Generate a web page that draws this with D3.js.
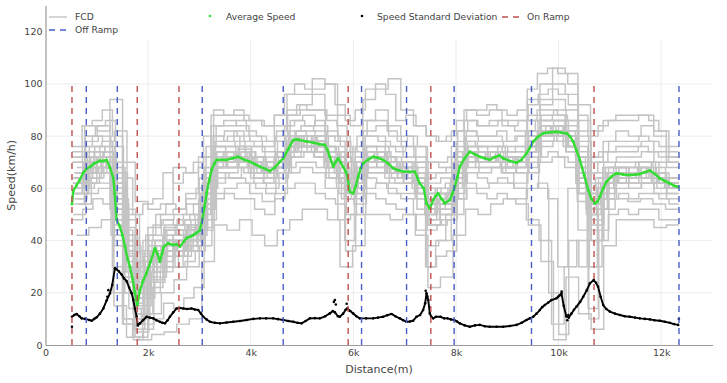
<!DOCTYPE html>
<html><head><meta charset="utf-8">
<script src="https://cdn.jsdelivr.net/npm/d3@7"></script>
<style>
body{margin:0;background:#fff}
svg{display:block}
text{font-family:"DejaVu Sans",Verdana,sans-serif}
</style>
</head><body>
<svg id="chart" width="727" height="383"></svg>
<script>
// ---------------- DATA ----------------
const xTicks = [0, 2000, 4000, 6000, 8000, 10000, 12000];
const xTickLabels = ["0", "2k", "4k", "6k", "8k", "10k", "12k"];
const yTicks = [0, 20, 40, 60, 80, 100, 120];

const onRamp = [516, 1788, 2601, 5899, 7510, 10691];
const offRamp = [795, 1399, 3055, 4633, 6160, 7037, 7964, 9472, 12347];
const rampSpeedRange = [0, 100];

// FCD trajectories (step speeds, km/h), each spanning fcdStart -> fcdEnd (m)
const fcdStart = [516,540,575,520,610,560,530,590,640,516,600,550,620,525,570,650,535,600,
                  520,560,530,600,516,580,545,610,530,570,516,590,555,620,525,565,540,600];
const fcdEnd = [12348,12330,12348,12300,12348,12348,12320,12348,12340,12348,12348,12290,12348,12348,12330,12348,12348,12310,
                12340,12348,12300,12348,12330,12348,12348,12320,12348,12280,12348,12348,12340,12348,12310,12348,12348,12330];
const fcdSpeeds = [
 [72,80,84,70,45,30,45,50,52,58,68,84,86,84,80,78,84,90,92,96,88,80,74,86,90,84,80,76,70,68,76,86,84,86,84,82,88,94,100,96,86,72,78,82,80,84,80,72],
 [50,58,60,42,10,5,12,20,25,30,38,58,60,62,58,55,58,66,68,66,60,48,50,60,62,58,56,50,38,40,50,62,60,62,62,60,66,70,72,68,55,40,52,56,55,56,54,52],
 [64,70,74,62,28,18,30,40,34,45,58,72,68,75,70,64,72,80,76,80,74,70,58,74,68,70,64,64,58,52,66,70,74,70,72,68,80,84,80,82,70,58,66,62,68,66,66,60],
 [60,66,72,52,8,3,20,30,42,36,50,68,74,70,66,70,68,74,80,74,68,60,66,70,74,66,70,60,50,58,60,74,70,74,68,72,74,80,84,76,62,50,60,68,62,70,62,64],
 [68,76,78,82,50,35,40,44,48,50,62,78,80,76,76,72,78,86,88,84,80,76,70,80,78,76,72,70,62,64,70,80,78,78,76,76,82,88,90,86,78,66,70,72,72,74,70,68],
 [56,62,66,48,20,10,28,34,30,40,45,64,66,68,64,62,64,72,74,72,66,58,56,66,66,62,62,58,48,50,58,68,68,68,66,66,70,76,78,74,62,48,58,62,60,62,60,58],
 [62,70,72,64,35,22,38,36,40,44,56,70,72,72,70,66,70,76,80,78,72,68,64,72,72,70,68,64,56,56,64,72,72,70,66,60,48,40,8,30,40,30,56,66,64,66,64,62],
 [58,68,70,60,30,15,25,45,46,40,52,72,70,76,68,64,66,78,78,76,70,62,60,70,70,66,64,60,46,54,62,74,72,72,70,72,76,80,82,80,70,54,62,64,66,64,64,60],
 [66,72,74,56,38,25,35,30,36,48,60,74,74,70,72,68,72,80,78,80,74,70,64,74,74,70,68,66,60,58,66,76,74,74,72,72,80,84,86,82,74,60,66,68,66,68,66,64],
 [74,84,82,94,70,55,52,54,68,66,72,88,88,88,86,84,88,96,96,102,100,88,84,94,98,102,90,84,80,78,82,90,88,90,86,86,94,100,106,104,92,82,86,88,88,88,82,74],
 [42,45,48,15,3,2,4,5,8,10,32,46,44,48,42,38,44,48,52,52,48,30,38,50,50,48,50,42,22,26,42,52,50,54,56,54,46,32,2,26,12,6,38,48,48,48,45,46],
 [62,66,68,60,26,20,32,38,36,42,54,70,72,70,68,66,70,76,78,78,70,64,62,72,72,68,66,62,54,56,62,72,72,72,72,72,76,82,84,80,66,54,62,66,66,68,64,62],
 [60,68,72,66,40,28,34,36,40,38,52,68,70,72,70,68,68,76,78,74,68,66,60,70,70,66,62,62,52,52,62,72,70,72,70,70,78,82,80,78,60,40,60,64,62,66,62,60],
 [64,72,70,58,24,12,30,32,36,44,56,70,70,74,70,66,72,78,78,78,72,64,62,70,72,68,66,62,56,54,64,74,72,72,72,70,76,80,82,78,66,58,64,66,66,66,66,62],
 [66,74,76,68,42,26,36,42,44,46,58,76,76,74,72,70,74,82,84,82,76,72,66,76,76,72,70,68,60,60,68,76,76,76,74,74,80,86,88,84,72,62,68,70,70,70,68,64],
 [54,64,68,54,14,8,26,36,34,38,48,66,64,68,62,60,66,72,74,74,64,56,54,66,66,64,62,56,46,48,56,70,66,68,68,66,72,78,80,76,58,46,56,60,60,62,58,56],
 [70,78,80,76,48,32,42,48,50,54,64,80,82,80,78,74,80,88,90,90,82,78,70,82,84,80,76,72,66,66,72,82,80,80,78,80,86,92,94,90,82,70,74,76,76,78,74,70],
 [58,64,70,62,32,20,28,40,38,36,54,68,68,70,66,64,68,74,76,76,70,62,60,68,70,66,64,62,52,50,62,70,70,70,68,68,74,80,84,80,64,52,62,64,64,64,62,60],
 [70,76,80,78,62,44,30,40,46,48, 46,50,54,72,80,78,82,78,76,76, 78,84,86,84,86,80,78,70,76,80, 80,76,74,76,70,64,66,68,78,82, 80,80,82,78,80,86,90,90,88,86, 76,66,70,74,74,74,76,74,72,70],
 [54,60,62,62,38,20,6,18,24,30, 30,32,36,52,62,64,64,62,60,58, 62,68,70,70,68,64,62,50,58,64, 62,60,58,58,52,44,46,48,62,66, 64,62,64,62,62,68,72,74,72,70, 58,44,52,56,58,56,58,58,56,54],
 [60,70,68,74,44,30,12,34,30,42, 36,44,40,66,70,74,70,72,66,68, 72,74,80,76,78,70,72,56,70,70, 74,66,68,64,64,50,58,54,72,72, 74,70,74,68,72,78,80,84,80,80, 64,52,62,66,64,66,64,68,62,60],
 [64,66,72,68,56,36,20,26,38,36, 40,38,46,60,74,68,74,68,70,64, 68,78,76,80,74,74,68,62,64,74, 70,70,64,68,58,56,54,60,68,76, 70,74,70,72,70,76,82,80,84,76, 70,58,58,64,68,64,68,64,64,62],
 [58,64,70,66,30,10,3,12,22,28, 30,36,40,58,68,70,70,70,68,64, 70,74,76,76,74,70,66,40,60,70, 70,68,66,66,58,30,40,50,66,72, 70,70,72,70,70,74,78,78,80,76, 58,30,52,62,64,64,64,64,62,60],
 [72,80,84,86,66,52,36,42,50,54, 52,56,60,76,84,84,86,82,80,78, 82,88,92,90,90,86,84,74,80,86, 86,82,78,80,76,70,70,72,82,86, 84,84,86,84,86,92,96,98,96,92, 80,72,74,78,78,78,80,78,76,72],
 [62,68,72,72,48,34,14,28,36,40, 38,42,44,64,72,72,72,70,68,66, 70,76,78,78,78,72,70,62,68,72, 72,68,66,66,62,54,56,58,70,74, 72,72,72,70,72,78,82,82,82,78, 68,56,60,66,66,66,66,66,64,62],
 [56,62,66,68,50,28,10,24,28,44, 42,46,42,60,68,70,72,72,66,70, 70,74,80,74,76,68,70,58,66,72, 72,66,64,68,60,52,58,56,68,74, 72,70,70,68,72,76,82,82,80,80, 66,54,60,62,66,66,68,66,62,62],
 [48,52,56,54,20,8,2,6,10,16, 14,18,22,44,56,58,56,56,52,50, 56,60,62,62,58,56,54,36,50,58, 56,54,52,50,44,30,34,36,56,60, 58,56,58,56,56,60,62,56,30,60, 44,14,40,50,52,50,52,52,48,48],
 [66,72,76,74,60,40,24,36,40,46, 44,48,50,68,76,76,78,74,72,70, 74,80,82,82,80,76,74,66,72,76, 76,72,70,70,66,58,60,62,74,78, 76,76,76,74,76,82,86,86,86,82, 72,60,64,68,68,68,70,70,66,64],
 [76,84,86,90,80,64,50,54,56,66, 62,66,70,80,90,88,90,86,86,84, 88,96,100,98,98,100,92,86,90,98, 100,96,86,88,84,80,78,80,86,90, 90,92,90,88,90,98,104,106,104,100, 88,80,84,86,86,86,88,86,82,76],
 [60,66,68,70,52,36,18,30,36,38, 36,40,44,62,70,72,72,70,68,66, 70,76,78,76,76,72,70,60,68,72, 70,68,66,66,62,52,56,58,70,74, 72,72,72,70,70,78,80,82,82,78, 66,54,60,64,66,64,66,66,64,60],
 [64,70,74,72,46,26,12,32,34,36, 40,42,46,64,74,70,74,72,70,66, 72,78,80,80,78,74,72,64,66,72, 72,70,68,66,64,56,56,58,72,74, 74,72,74,72,72,78,82,82,82,80, 68,54,60,66,66,66,66,66,64,62],
 [62,68,70,70,54,36,20,28,34,40, 40,42,44,60,70,70,72,70,68,66, 70,76,78,78,76,72,70,60,66,70, 70,68,66,66,62,54,56,56,70,72, 72,72,72,70,70,74,60,20,4,40, 30,10,44,62,64,64,66,66,62,60],
 [58,64,66,68,44,30,16,26,32,36, 36,38,42,58,68,68,68,66,64,62, 66,72,74,74,72,68,66,56,62,68, 68,64,62,62,56,50,52,54,66,70, 68,68,68,66,68,74,78,78,78,74, 62,50,56,62,62,62,62,62,60,58],
 [66,74,74,76,58,42,24,32,40,44, 42,44,48,66,76,74,76,74,72,70, 74,80,82,80,80,76,74,66,70,76, 74,72,70,70,66,58,60,60,72,78, 76,74,76,74,74,80,86,86,86,82, 72,60,64,68,68,68,70,70,66,64],
 [60,66,70,70,40,24,8,22,30,36, 34,40,40,62,70,70,70,70,68,66, 68,74,76,76,76,70,68,56,66,70, 70,66,66,64,60,48,54,56,70,72, 70,70,72,68,70,76,80,80,80,76, 64,50,58,64,64,64,64,64,62,60],
 [62,70,72,72,52,34,18,30,36,40, 40,42,44,62,72,72,72,70,68,68, 70,76,78,78,78,72,70,60,68,72, 72,68,68,66,62,54,56,58,70,74, 72,72,72,70,72,78,82,82,82,78, 68,56,60,66,66,66,66,66,64,62]
];

// Average speed (km/h)
const avgDist = [516,540,600,660,737,800,870,950,1062,1130,
 1192,1257,1321,1350,1386,1451,1500,1549,1600,1646,
 1700,1743,1788,1841,1900,1971,2050,2133,2180,2230,
 2270,2308,2393,2490,2560,2620,2690,2750,2820,2880,
 2950,3010,3055,3100,3140,3190,3237,3290,3335,3430,
 3530,3640,3756,3870,3984,4080,4179,4280,4374,4470,
 4568,4633,4730,4828,4900,4958,5080,5217,5330,5445,
 5500,5542,5607,5650,5704,5750,5802,5850,5880,5932,
 5996,6050,6094,6140,6191,6290,6386,6480,6581,6680,
 6776,6870,6970,7080,7198,7250,7295,7373,7425,7490,
 7555,7600,7652,7720,7782,7880,7930,7977,8030,8075,
 8170,8270,8370,8464,8560,8659,8760,8854,8919,9050,
 9180,9280,9375,9440,9505,9600,9700,9830,9960,10060,
 10155,10220,10285,10350,10415,10500,10577,10640,10707,10760,
 10805,10870,10935,11030,11130,11260,11390,11490,11584,11680,
 11779,11880,11974,12070,12169,12250,12331];
const avgSpeed = [54,59,61,63,66,67.5,68.3,69.5,70.6,70.5,
 70.9,67.8,64,58,48,45.3,42,37.7,33,30,
 25,20,15.3,21,24.5,27.6,32,37.1,35,31.9,
 35,37.7,39,38.3,38.5,37.7,39.5,41,41.5,42.1,
 43,44,47.9,53,58.2,63,67,69.5,70.9,71,
 70.9,71.5,72.1,71,70.2,69.3,68.3,67.5,66.6,68,
 70.2,71.5,75,78.5,78.7,78.5,78,77.5,77,76.6,
 74.5,72.1,68.3,70,71.5,70,68.3,66.5,65.1,58.7,
 58.1,61,64.5,67.5,69.6,71,72.1,71.7,70.9,69.5,
 67.7,67,66.4,66.4,66.4,64,61.9,60,54.3,52.3,
 55.5,57,58.1,56,54.3,55.5,58,60.6,64.5,68.3,
 71.5,74,73,72.1,71.5,71,72,72.6,71.5,70.5,
 69.8,71,73.4,75.5,77.9,79.8,81.1,81.5,81.7,81.3,
 81.1,80,77.9,74.5,70.9,65,59.4,56,54.3,55,
 56.8,60,62.6,64.5,65.8,65.3,65.1,65.2,65.5,66.2,
 66.8,65.5,63.8,62.8,61.9,61,60.6];

// Speed standard deviation (km/h)
const sdDist = [516,560,607,660,705,770,850,900,950,997,
 1060,1127,1190,1257,1300,1354,1386,1430,1484,1530,
 1581,1630,1679,1711,1743,1776,1800,1841,1900,1971,
 2030,2100,2160,2230,2280,2328,2380,2425,2490,2555,
 2620,2685,2760,2847,2910,2977,3030,3075,3140,3205,
 3300,3400,3530,3659,3790,3919,4050,4179,4300,4438,
 4530,4633,4730,4828,4910,4990,5070,5153,5250,5347,
 5450,5542,5600,5640,5700,5737,5800,5850,5880,5940,
 5996,6060,6126,6250,6386,6480,6581,6660,6744,6820,
 6905,6970,7037,7100,7165,7230,7300,7360,7400,7425,
 7460,7490,7520,7555,7610,7700,7770,7834,7900,7964,
 8020,8075,8170,8270,8370,8464,8560,8659,8790,8919,
 9050,9180,9280,9375,9440,9505,9570,9635,9680,9732,
 9800,9862,9960,10020,10057,10100,10150,10200,10250,10300,
 10350,10420,10480,10550,10610,10685,10730,10770,10820,10870,
 10930,11000,11100,11195,11290,11390,11490,11584,11680,11779,
 11870,11974,12070,12169,12250,12331];
const sdValue = [10.8,11.5,11.9,11,10.2,10,9.6,9.3,10,10.6,
 12,14,17,19.8,23,29.4,29,28.2,27,25.5,
 24.5,22,19.8,17.2,14,10.8,7.5,8.3,9.5,10.8,
 10.5,10.2,9.5,8.9,8.5,8.3,9.5,10.8,12.5,14,
 14.2,14,13.8,14,13.6,13.4,12,10.8,9.8,8.9,
 8.5,8.3,8.6,8.9,9.2,9.6,10,10.2,10.2,10.2,
 9.9,9.6,9.2,8.9,8.5,8.3,9.2,10.2,10.3,10.2,
 11,12.1,13,12.5,11,10.8,12,13.5,14,13,
 12.1,11,10.2,10.2,10.2,10.5,10.8,11.4,11.9,11,
 10.2,9.5,8.9,9,9.3,10.8,11.5,13.4,16,19.8,
 17.2,12.1,10.8,10.2,10.8,10.8,10.2,10.2,9.8,9.6,
 9,8.3,7.5,7,7.5,7.7,7.2,7,7,7,
 7.3,7.7,8.5,9.6,10.2,10.8,12,13.4,14.5,15.3,
 16.3,17.2,17.9,19,19.8,15,11,10.5,12,13.5,
 14.7,16.5,18.5,21,23.6,24.9,23.8,22.3,18.5,15.3,
 13.8,12.8,12,11.5,11,10.8,10.5,10.2,10,9.8,
 9.5,9.3,8.9,8.5,8,7.7];
const sdOutlierDist = [516,1205,1225,5620,5640,5660,5870,7410,7440,9990,10060,10170,10190,12345];
const sdOutlierValue = [7,18.5,21,16.5,17.2,15.5,15.8,20.8,18.7,18.5,20.5,9.5,11.5,10];

// ---------------- CHART ----------------
const svg = d3.select("#chart");
const x = d3.scaleLinear().domain([0, 13000]).range([45.5, 712.5]);
const y = d3.scaleLinear().domain([0, 130]).range([345, 5.6]);

const colFCD = "#c4c4c4", colAvg = "#33dd33", colSD = "#000000",
      colOn = "#c0504d", colOff = "#4a5cc8", gridCol = "#ececec", axisCol = "#9a9a9a", textCol = "#444";

// grid
const grid = svg.append("g");
grid.selectAll("line.gx").data(xTicks.slice(1)).join("line")
  .attr("x1", d => x(d)).attr("x2", d => x(d))
  .attr("y1", y.range()[0]).attr("y2", y.range()[1])
  .attr("stroke", gridCol).attr("stroke-width", 1);
grid.selectAll("line.gy").data(yTicks.slice(1)).join("line")
  .attr("x1", x.range()[0]).attr("x2", x.range()[1])
  .attr("y1", d => y(d)).attr("y2", d => y(d))
  .attr("stroke", gridCol).attr("stroke-width", 1);

// FCD traces
const stepLine = d3.line().x(d => x(d[0])).y(d => y(d[1])).curve(d3.curveStepAfter);
const fcdG = svg.append("g");
fcdSpeeds.forEach((vals, i) => {
  const s = fcdStart[i], e = fcdEnd[i], n = vals.length, st = (e - s) / n;
  const pts = vals.map((v, k) => [s + k * st, v]);
  pts.push([e, vals[n - 1]]);
  fcdG.append("path").attr("d", stepLine(pts))
    .attr("fill", "none").attr("stroke", colFCD).attr("stroke-width", 1.45);
});

// average speed
const line = d3.line().x(d => x(d[0])).y(d => y(d[1]));
const avgPts = avgDist.map((d, i) => [d, avgSpeed[i]]);
svg.append("path").attr("d", line(avgPts)).attr("fill", "none")
  .attr("stroke", colAvg).attr("stroke-width", 2.4).attr("stroke-linejoin", "round");
svg.append("g").selectAll("circle").data(avgPts).join("circle")
  .attr("cx", d => x(d[0])).attr("cy", d => y(d[1])).attr("r", 1.5).attr("fill", colAvg);

// std deviation
const sdPts = sdDist.map((d, i) => [d, sdValue[i]]);
svg.append("path").attr("d", line(sdPts)).attr("fill", "none")
  .attr("stroke", colSD).attr("stroke-width", 1.9).attr("stroke-linejoin", "round");
const sdOut = sdOutlierDist.map((d, i) => [d, sdOutlierValue[i]]);
svg.append("g").selectAll("circle").data(sdPts.concat(sdOut)).join("circle")
  .attr("cx", d => x(d[0])).attr("cy", d => y(d[1])).attr("r", 1.3).attr("fill", colSD);

// ramps
function ramps(data, col) {
  svg.append("g").selectAll("line").data(data).join("line")
    .attr("x1", d => x(d)).attr("x2", d => x(d))
    .attr("y1", y(rampSpeedRange[0])).attr("y2", y(rampSpeedRange[1]))
    .attr("stroke", col).attr("stroke-width", 1.4).attr("stroke-dasharray", "6,5");
}
ramps(onRamp, colOn);
ramps(offRamp, colOff);

// legend background
svg.append("rect").attr("x", 47).attr("y", 0).attr("width", 665).attr("height", 40).attr("fill", "#fff");

// axes
const xAxis = svg.append("g").attr("transform", `translate(0,${y(0)})`)
  .call(d3.axisBottom(x).tickValues(xTicks).tickFormat((d, i) => xTickLabels[i]).tickSize(0).tickSizeOuter(0).tickPadding(4));
const yAxis = svg.append("g").attr("transform", `translate(${x(0)},0)`)
  .call(d3.axisLeft(y).tickValues(yTicks).tickSize(0).tickSizeOuter(0).tickPadding(3));
[xAxis, yAxis].forEach(g => {
  g.select(".domain").attr("stroke", axisCol).attr("stroke-width", 1.2);
  g.selectAll("text").attr("fill", textCol).attr("font-size", 9.5)
    .attr("font-family", "\"DejaVu Sans\",Verdana,sans-serif");
});

svg.append("text").attr("x", (x.range()[0] + x.range()[1]) / 2).attr("y", 373)
  .attr("text-anchor", "middle").attr("font-size", 11).attr("fill", textCol).text("Distance(m)");
svg.append("text").attr("transform", `translate(15,${(y.range()[0] + y.range()[1]) / 2}) rotate(-90)`)
  .attr("text-anchor", "middle").attr("font-size", 11).attr("fill", textCol).text("Speed(km/h)");

// legend
const lg = svg.append("g").attr("font-size", 9.2).attr("fill", textCol);
function legText(tx, ty, t) {
  lg.append("text").attr("x", tx).attr("y", ty).attr("dy", "0.35em").text(t);
}
lg.append("line").attr("x1", 49).attr("x2", 67).attr("y1", 17).attr("y2", 17).attr("stroke", colFCD).attr("stroke-width", 1.4);
legText(75, 17, "FCD");
lg.append("circle").attr("cx", 210).attr("cy", 16).attr("r", 1.3).attr("fill", colAvg);
legText(226, 17, "Average Speed");
lg.append("circle").attr("cx", 362).attr("cy", 16).attr("r", 1.3).attr("fill", colSD);
legText(377, 17, "Speed Standard Deviation");
lg.append("line").attr("x1", 502).attr("x2", 520).attr("y1", 17).attr("y2", 17).attr("stroke", colOn).attr("stroke-width", 1.4).attr("stroke-dasharray", "6,5");
legText(527, 17, "On Ramp");
lg.append("line").attr("x1", 49).attr("x2", 67).attr("y1", 30).attr("y2", 30).attr("stroke", colOff).attr("stroke-width", 1.4).attr("stroke-dasharray", "6,5");
legText(75, 30, "Off Ramp");
</script>
</body></html>
